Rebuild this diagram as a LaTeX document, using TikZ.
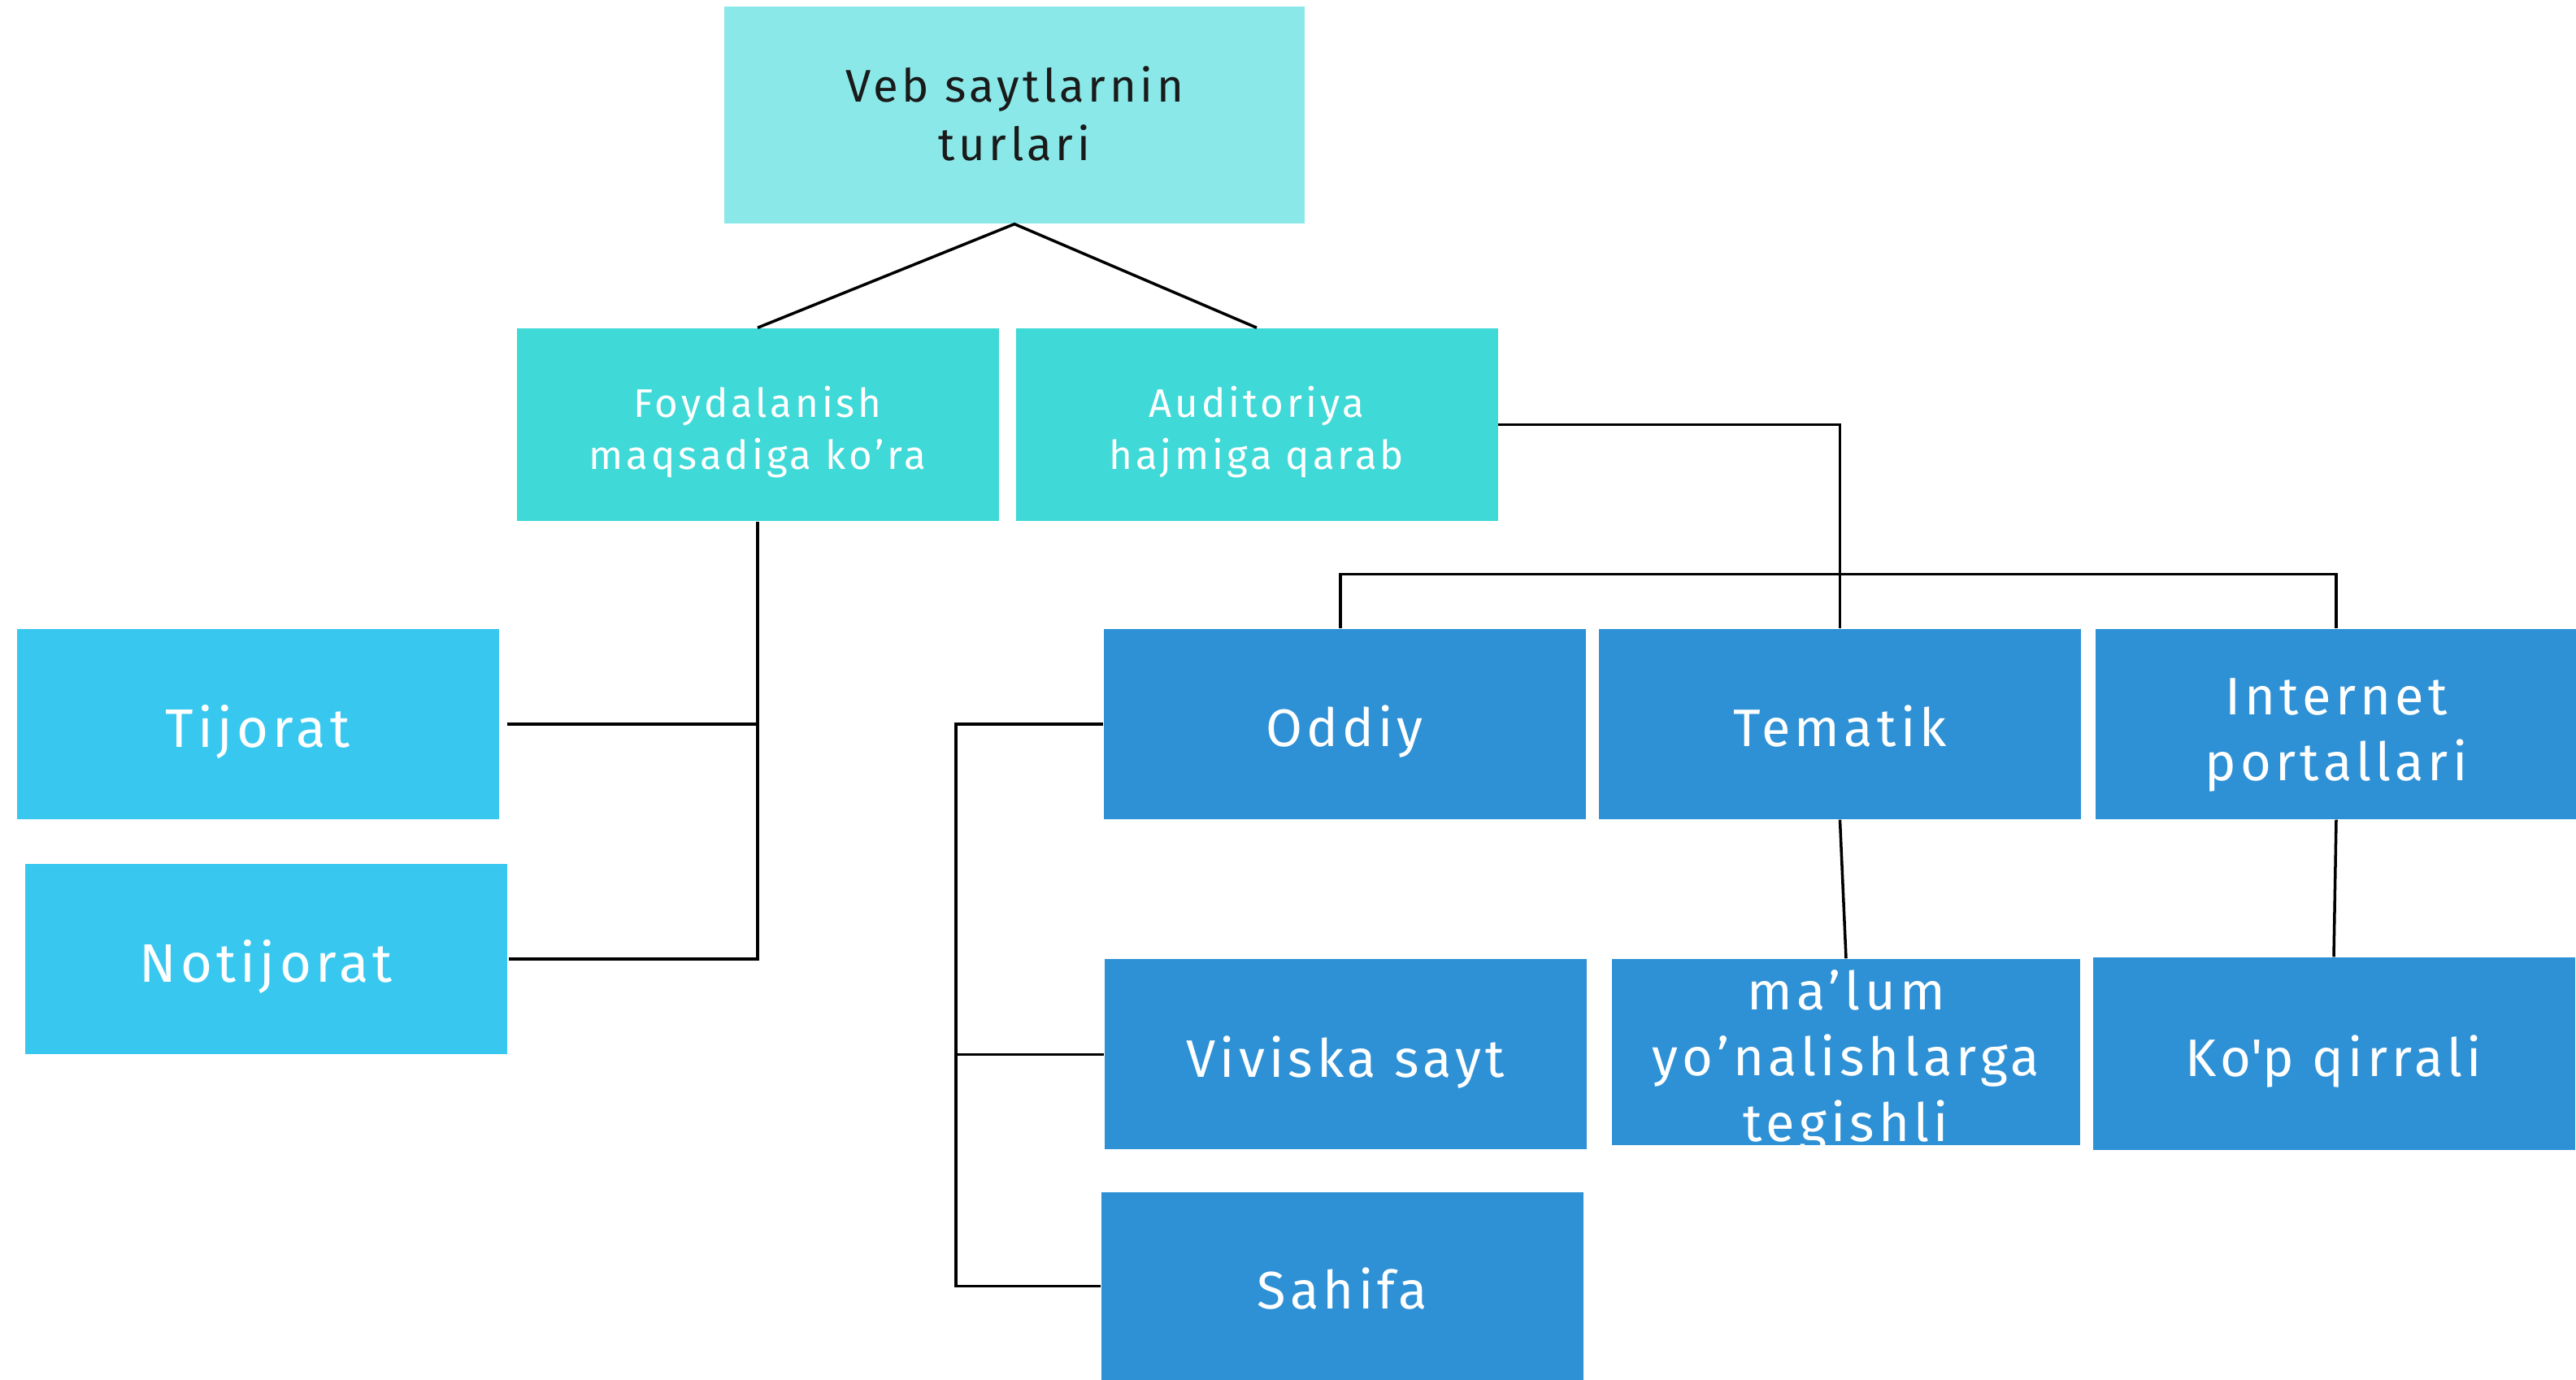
\documentclass[tikz,border=0pt]{standalone}
\usepackage{fontspec}
\setmainfont[LetterSpace=8]{Fira Sans}
\usetikzlibrary{calc}

\definecolor{topcyan}{HTML}{8AE9E8}
\definecolor{midcyan}{HTML}{3FD9D7}
\definecolor{skyblue}{HTML}{38C8EF}
\definecolor{deepblue}{HTML}{2E91D5}
\definecolor{inkdark}{HTML}{1A1A1A}

\tikzset{
	box/.style = {rectangle, inner sep = 0pt, align = center, minimum width = 5.93cm, minimum height = 2.34cm, text = white,
		execute at begin node = {\rule{0pt}{1.1em}}, execute at end node = {\rule[-0.25em]{0pt}{0pt}}},
	textdrop/.style = {execute at begin node = {\rule{0pt}{#1}}},
	rootbox/.style = {box, fill = topcyan, text = inkdark, minimum width = 7.14cm, minimum height = 2.67cm, font = \fontsize{16}{20.5}\selectfont},
	groupbox/.style = {box, fill = midcyan, minimum height = 2.37cm, font = \fontsize{14}{18.4}\selectfont},
	kindbox/.style = {box, fill = skyblue, font = \fontsize{19}{23}\selectfont},
	sizebox/.style = {box, fill = deepblue, font = \fontsize{18.5}{23}\selectfont},
	link/.style = {draw = black, line width = 1pt}
}

\begin{document}
\begin{tikzpicture}

\useasboundingbox (0,0) rectangle (31.69,16.98);

% levels
\node[rootbox, textdrop = 36pt] (root) at (12.48, 15.565) {Veb saytlarnin\\turlari};

\node[groupbox, textdrop = 35pt] (foyd) at (9.32, 11.755) {Foydalanish\\maqsadiga ko’ra};
\node[groupbox, textdrop = 35pt] (audit) at (15.46, 11.755) {Auditoriya\\hajmiga qarab};

\node[kindbox] (tij) at (3.17, 8.07) {Tijorat};
\node[kindbox] (noti) at (3.27, 5.18) {Notijorat};

\node[sizebox] (odd) at (16.54, 8.07) {Oddiy};
\node[sizebox] (tem) at (22.635, 8.07) {Tematik};
\node[sizebox, textdrop = 44pt] (int) at (28.74, 8.07) {Internet\\portallari};

\node[sizebox] (viv) at (16.55, 4.005) {Viviska sayt};
\node[sizebox, text height = 62.5pt, text depth = 0pt, minimum width = 5.76cm, minimum height = 2.29cm] (mal) at (22.71, 4.035) {ma’lum\\yo’nalishlarga\\tegishli};
\node[sizebox, minimum height = 2.37cm] (kop) at (28.71, 4.015) {Ko\textquotesingle p qirrali};
\node[sizebox, minimum height = 2.31cm] (sah) at (16.51, 1.155) {Sahifa};

\coordinate (spine) at (11.76, 0);

% connectors
\draw[link] (foyd.north) -- (root.south) -- (audit.north);

\draw[link] (foyd.south) -- (foyd.south |- noti.east) -- ([xshift = 0.02cm]noti.east);
\draw[link] ([xshift = 0.1cm]tij.east) -- (foyd.south |- tij.east);

\draw[link] (audit.east) -- (tem.north |- audit.east) -- (tem.north);
\draw[link] ([xshift = -0.05cm]odd.north) -- ++(0, 0.67) -| (int.north);

\draw[link] (odd.west) -| (spine |- sah.west) -- (sah.west);
\draw[link] (spine |- viv.west) -- (viv.west);

\draw[link] (tem.south) -- (mal.north);
\draw[link] (int.south) -- (kop.north);

\end{tikzpicture}
\end{document}
